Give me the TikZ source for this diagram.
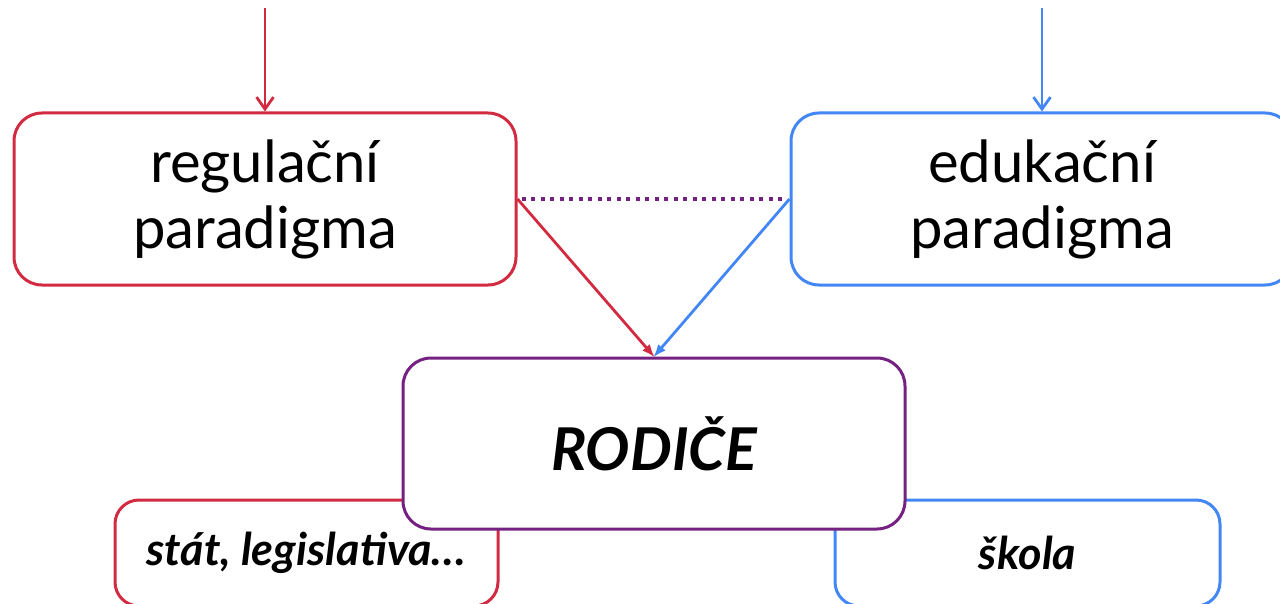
\documentclass[tikz,border=0pt]{standalone}
\usepackage{fontspec}
\setmainfont{Lato}
\usetikzlibrary{arrows.meta}
\definecolor{cred}{HTML}{D22B41}
\definecolor{cblue}{HTML}{4287F5}
\definecolor{cpurple}{HTML}{742182}
\begin{document}
\begin{tikzpicture}[x=1pt,y=-1pt,
  bigbox/.style={draw, line width=3pt, rounded corners=28pt, fill=white,
    minimum width=502pt, minimum height=172pt, inner sep=0pt, align=center,
    font=\fontsize{58}{66}\selectfont},
  smallbox/.style={draw, line width=3pt, rounded corners=24pt, fill=white,
    minimum height=106pt, inner sep=0pt, align=center,
    font=\fontsize{45}{50}\selectfont\bfseries\itshape},
  conn/.style={line width=2.8pt},
  topar/.style={conn, -{Straight Barb[length=12pt,width=17pt,line width=2.8pt]}},
  diagar/.style={conn, -{Latex[length=13pt,width=10pt]}, shorten >=-1pt}
]
\useasboundingbox (0,0) rectangle (1280,604);
% bottom boxes
\node[smallbox, draw=cred, minimum width=383pt] (stat) at (306.5,553) {stát, legislativa…};
\node[smallbox, draw=cblue, minimum width=385pt] (skola) at (1027.5,553) {škola};
% center box
\node[bigbox, draw=cpurple, minimum height=171pt, font=\fontsize{59}{64}\selectfont\bfseries\itshape] (rod) at (654,443.5) {RODIČE};
% top boxes
\node[bigbox, draw=cred] (reg) at (265,199) {regulační\\paradigma};
\node[bigbox, draw=cblue] (edu) at (1042,199) {edukační\\paradigma};
% top arrows
\coordinate (rtop) at (265,8);
\coordinate (btop) at (1042,8);
\draw[topar, cred] (rtop) -- (reg.north);
\draw[topar, cblue] (btop) -- (edu.north);
% dotted link
\draw[cpurple, line width=4pt, dash pattern=on 4pt off 5.5pt] (reg.east) ++(4pt,0) -- ([xshift=-3pt]edu.west);
% diagonal arrows
\draw[diagar, cred] (reg.east) -- (rod.north);
\draw[diagar, cblue] (edu.west) -- (rod.north);
\end{tikzpicture}
\end{document}
